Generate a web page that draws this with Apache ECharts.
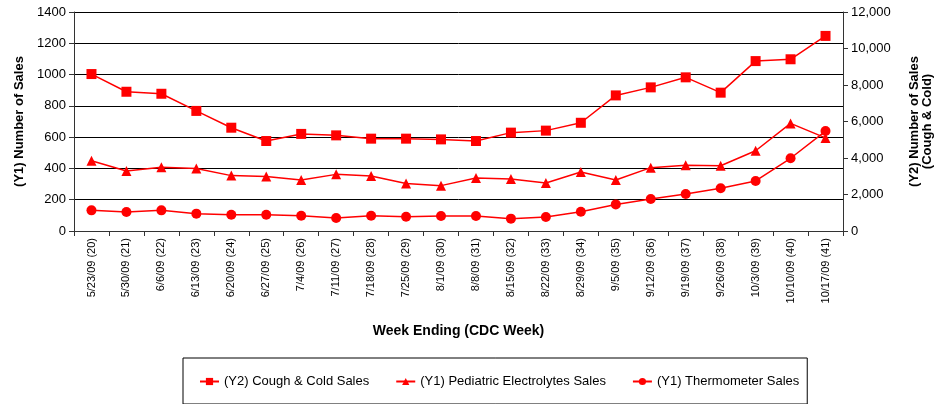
<!DOCTYPE html>
<html><head><meta charset="utf-8">
<script src="https://cdn.jsdelivr.net/npm/echarts@6/dist/echarts.min.js"></script>
<style>html,body{margin:0;padding:0;background:#fff}#c{width:939px;height:404px}</style>
</head><body><div id="c"></div>
<script>
const categories = ["5/23/09 (20)","5/30/09 (21)","6/6/09 (22)","6/13/09 (23)","6/20/09 (24)","6/27/09 (25)","7/4/09 (26)","7/11/09 (27)","7/18/09 (28)","7/25/09 (29)","8/1/09 (30)","8/8/09 (31)","8/15/09 (32)","8/22/09 (33)","8/29/09 (34)","9/5/09 (35)","9/12/09 (36)","9/19/09 (37)","9/26/09 (38)","10/3/09 (39)","10/10/09 (40)","10/17/09 (41)"];
const coughCold = [8600,7630,7520,6580,5660,4930,5320,5240,5060,5060,5020,4930,5390,5500,5930,7430,7870,8420,7580,9310,9410,10690];
const electrolytes = [449,383,407,400,354,349,326,362,352,303,290,339,332,307,377,326,405,420,417,513,688,595];
const thermometer = [132,121,132,111,104,104,98,83,98,91,96,96,79,89,123,170,205,236,273,320,465,639];
const seriesNames = ["(Y2) Cough & Cold Sales","(Y1) Pediatric Electrolytes Sales","(Y1) Thermometer Sales"];

const font = "'Liberation Sans', Arial, sans-serif";
const chart = echarts.init(document.getElementById('c'));
const red = '#FF0000';
function ser(name, data, sym, yIdx, size) {
  return {name, type:'line', data, yAxisIndex:yIdx, symbol:sym, symbolSize:size,
    lineStyle:{color:red,width:1.5}, itemStyle:{color:red}, animation:false};
}
chart.setOption({
  animation:false,
  textStyle:{fontFamily:font},
  grid:{left:74,right:96,top:12,height:219,containLabel:false,outerBoundsMode:'none'},
  legend:{
    data:seriesNames, bottom:0, left:183,
    borderColor:'#000', borderWidth:1, padding:[17,8,16,16], itemGap:26,
    itemWidth:19, itemHeight:9,
    textStyle:{fontFamily:font,fontSize:13,color:'#000'}
  },
  xAxis:{
    type:'category', data:categories, boundaryGap:true,
    name:'Week Ending (CDC Week)', nameLocation:'middle', nameGap:93,
    nameTextStyle:{fontFamily:font,fontSize:14,fontWeight:'bold',color:'#000'},
    axisLine:{lineStyle:{color:'#333',width:1}},
    axisTick:{show:true,length:5,lineStyle:{color:'#333'}},
    axisLabel:{rotate:90,fontSize:11,color:'#000',fontFamily:font,margin:7,interval:0}
  },
  yAxis:[
    {type:'value',min:0,max:1400,interval:200,position:'left',
     name:'(Y1) Number of Sales',nameLocation:'middle',nameGap:44,
     nameTextStyle:{fontFamily:font,fontSize:13,fontWeight:'bold',color:'#000'},
     axisLine:{show:true,lineStyle:{color:'#333'}},
     axisTick:{show:true,length:5,lineStyle:{color:'#333'}},
     axisLabel:{fontSize:13,color:'#000',fontFamily:font,margin:8,formatter:v=>String(v)},
     splitLine:{show:true,lineStyle:{color:'#000',width:1}}},
    {type:'value',min:0,max:12000,interval:2000,position:'right',
     name:'(Y2) Number of Sales\n(Cough & Cold)',nameLocation:'middle',nameGap:65,nameRotate:90,
     nameTextStyle:{fontFamily:font,fontSize:13,fontWeight:'bold',color:'#000',lineHeight:13},
     axisLine:{show:true,lineStyle:{color:'#333'}},
     axisTick:{show:true,length:5,lineStyle:{color:'#333'}},
     axisLabel:{fontSize:13,color:'#000',fontFamily:font,margin:8,
       formatter:v=>v.toLocaleString('en-US')},
     splitLine:{show:false}}
  ],
  series:[
    ser(seriesNames[0], coughCold, 'rect', 1, 10),
    ser(seriesNames[1], electrolytes, 'triangle', 0, 10),
    ser(seriesNames[2], thermometer, 'circle', 0, 10)
  ]
});
</script></body></html>
